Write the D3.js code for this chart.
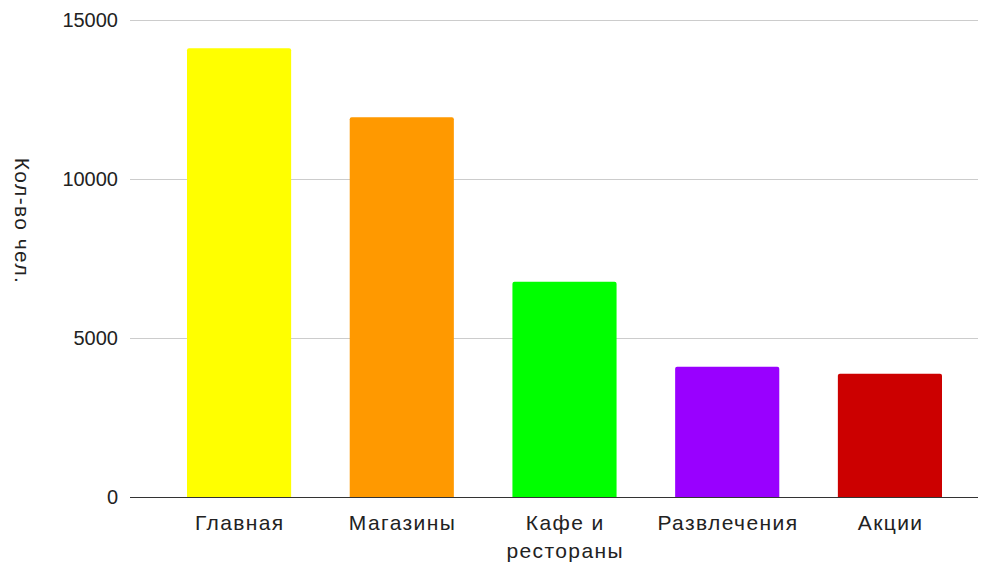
<!DOCTYPE html>
<html>
<head>
<meta charset="utf-8">
<script src="https://cdn.jsdelivr.net/npm/d3@7"></script>
<style>
  body { margin: 0; background: #fff; }
  text { font-family: "Liberation Sans", Arial, sans-serif; fill: #222; }
</style>
</head>
<body>
<div id="chart"></div>
<script>
var categories = [["Главная"], ["Магазины"], ["Кафе и", "рестораны"], ["Развлечения"], ["Акции"]];
var values = [14100, 11930, 6770, 4100, 3880];
var colors = ["#ffff00", "#ff9900", "#00ff00", "#9900ff", "#cc0000"];
var yTicks = [0, 5000, 10000, 15000];
var yTitle = "Кол-во чел.";

var width = 994, height = 563;
var plotLeft = 130, plotRight = 978, plotTop = 19.5, plotBottom = 497.3;

var svg = d3.select("#chart")
  .append("svg")
  .attr("width", width)
  .attr("height", height);

var keys = categories.map(function(d) { return d.join(" "); });

var x = d3.scaleBand()
  .domain(keys)
  .range([187, 942])
  .paddingInner(0.36)
  .paddingOuter(0);

var y = d3.scaleLinear().domain([0, 15000]).range([plotBottom, plotTop]);

// grid lines
svg.append("g")
  .selectAll("line")
  .data(yTicks.slice(1))
  .enter()
  .append("line")
  .attr("x1", plotLeft)
  .attr("x2", plotRight)
  .attr("y1", function(d) { return Math.round(y(d)) + 0.5; })
  .attr("y2", function(d) { return Math.round(y(d)) + 0.5; })
  .attr("stroke", "#cccccc")
  .attr("stroke-width", 1);

// y tick labels
svg.append("g")
  .selectAll("text")
  .data(yTicks)
  .enter()
  .append("text")
  .attr("x", 118)
  .attr("y", function(d) { return y(d); })
  .attr("dy", "0.35em")
  .attr("text-anchor", "end")
  .style("font-size", "20px")
  .text(function(d) { return d; });

// bars
svg.append("g")
  .selectAll("path")
  .data(values)
  .enter()
  .append("path")
  .attr("fill", function(d, i) { return colors[i]; })
  .attr("d", function(d, i) {
    var x0 = x(keys[i]), w = x.bandwidth(), y0 = y(d), y1 = y(0), r = 2;
    return "M" + x0 + "," + y1 +
      "V" + (y0 + r) +
      "Q" + x0 + "," + y0 + " " + (x0 + r) + "," + y0 +
      "H" + (x0 + w - r) +
      "Q" + (x0 + w) + "," + y0 + " " + (x0 + w) + "," + (y0 + r) +
      "V" + y1 + "Z";
  });

// baseline
svg.append("line")
  .attr("x1", plotLeft)
  .attr("x2", plotRight)
  .attr("y1", Math.round(y(0)) + 0.5)
  .attr("y2", Math.round(y(0)) + 0.5)
  .attr("stroke", "#333333")
  .attr("stroke-width", 1);

// category labels
var lab = svg.append("g")
  .selectAll("text")
  .data(categories)
  .enter()
  .append("text")
  .attr("text-anchor", "middle")
  .style("font-size", "21px")
  .style("letter-spacing", "1.4px")
  .attr("x", function(d, i) { return x(keys[i]) + x.bandwidth() / 2 + 0.7; });

lab.selectAll("tspan")
  .data(function(d) { return d; })
  .enter()
  .append("tspan")
  .attr("x", function() { return d3.select(this.parentNode).attr("x"); })
  .attr("y", function(d, j) { return 530 + j * 28; })
  .text(function(d) { return d; });

// y title
svg.append("text")
  .attr("transform", "translate(15," + 221 + ") rotate(90)")
  .attr("text-anchor", "middle")
  .style("font-size", "21px")
  .style("letter-spacing", "1.4px")
  .text(yTitle);
</script>
</body>
</html>
